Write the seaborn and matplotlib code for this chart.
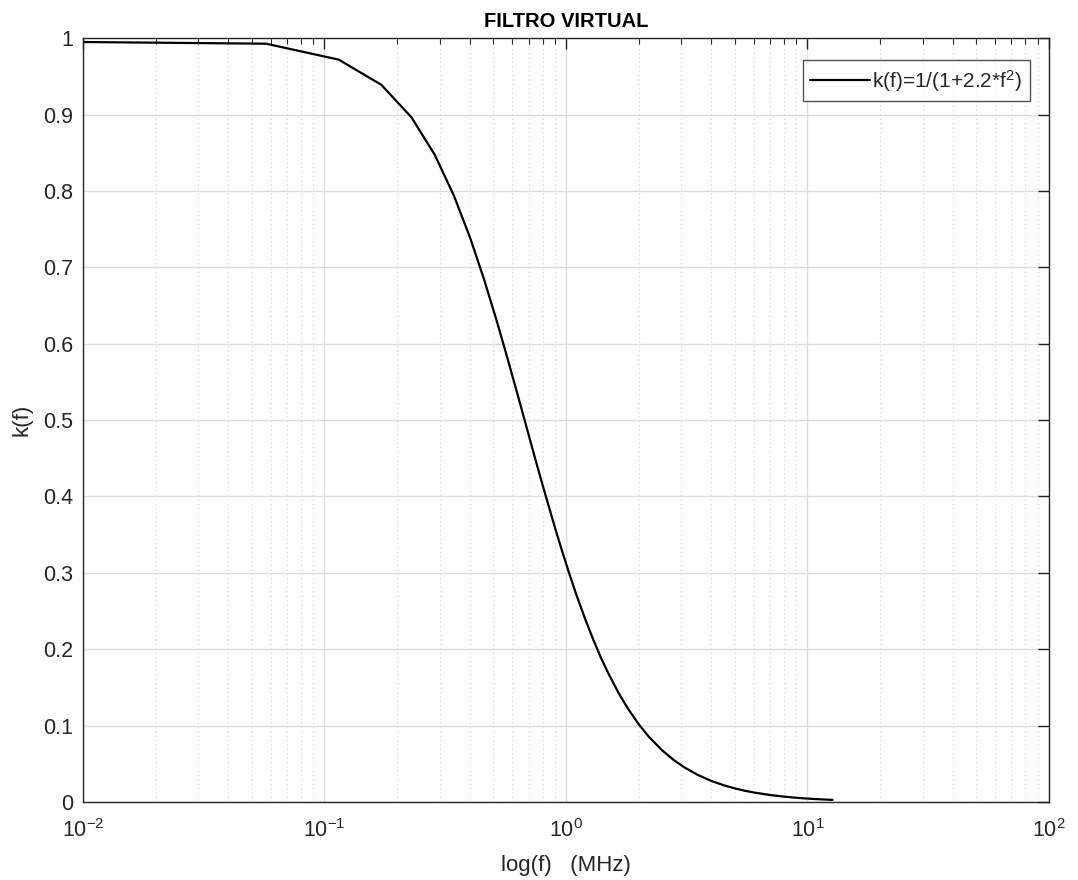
import matplotlib
matplotlib.use("Agg")
import matplotlib.pyplot as plt
import seaborn as sns
import numpy as np
import pandas as pd
from matplotlib.ticker import LogLocator, NullFormatter, MultipleLocator, FuncFormatter

# Data
freq_mhz = [0.01, 0.0573, 0.1146, 0.1719, 0.2292, 0.2865, 0.3438, 0.4011, 0.4584,
            0.5157, 0.573, 0.63, 0.6876, 0.745, 0.8022, 0.86, 0.9168, 0.974, 1.0314,
            1.1, 1.2, 1.3, 1.4, 1.5, 1.65, 1.8, 2.0, 2.2, 2.5, 2.8, 3.1, 3.5, 4.0,
            4.5, 5.0, 5.5, 6.0, 7.0, 8.0, 9.0, 10.0, 11.3, 12.7]
k_vals = [0.995, 0.9928, 0.9719, 0.939, 0.8964, 0.8471, 0.7936, 0.7386, 0.6839,
          0.6309, 0.5806, 0.534, 0.4902, 0.450, 0.4139, 0.381, 0.351, 0.324, 0.2994,
          0.273, 0.2399, 0.212, 0.188, 0.1681, 0.143, 0.123, 0.102, 0.0858, 0.0678,
          0.0548, 0.0452, 0.0358, 0.0276, 0.0220, 0.0179, 0.0148, 0.0125, 0.0092,
          0.00705, 0.0056, 0.00452, 0.00355, 0.00281]
series_label = "k(f)=1/(1+2.2*f$^2$)"
title = "FILTRO VIRTUAL"
xlabel = "log(f)   (MHz)"
ylabel = "k(f)"

sns.set_style("white")
plt.rcParams['font.family'] = ['Liberation Sans', 'DejaVu Sans']
plt.rcParams['mathtext.fontset'] = 'custom'
plt.rcParams['mathtext.rm'] = 'Liberation Sans'
plt.rcParams['mathtext.it'] = 'Liberation Sans'
plt.rcParams['axes.unicode_minus'] = False

fig = plt.figure(figsize=(10.78, 8.8), dpi=100)
ax = fig.add_axes([0.077, 0.0886, 0.896, 0.868])

df = pd.DataFrame({"f": freq_mhz, "k": k_vals})
sns.lineplot(data=df, x="f", y="k", ax=ax, color="black", linewidth=1.6,
             estimator=None, sort=False, label=series_label)

ax.set_xscale("log")
ax.set_xlim(1e-2, 1e2)
ax.set_ylim(0, 1)
ax.yaxis.set_major_locator(MultipleLocator(0.1))
ax.yaxis.set_major_formatter(FuncFormatter(
    lambda v, p: f"{int(round(v))}" if abs(v - round(v)) < 1e-9 else f"{v:.1f}"))
ax.xaxis.set_major_locator(LogLocator(base=10, numticks=10))
ax.xaxis.set_major_formatter(FuncFormatter(
    lambda v, p: r"$\mathdefault{10^{%d}}$" % int(round(np.log10(v)))))
ax.xaxis.set_minor_locator(LogLocator(base=10, subs=np.arange(2, 10), numticks=100))
ax.xaxis.set_minor_formatter(NullFormatter())

ax.grid(True, which="major", color="#dcdcdc", linewidth=1.0, linestyle="-")
ax.grid(True, which="minor", axis="x", color="#d8d8d8", linewidth=0.9, linestyle=(0, (1, 2.5)))
ax.set_axisbelow(True)

for s in ax.spines.values():
    s.set_color("#262626")
    s.set_linewidth(1.0)
    s.set_visible(True)

ax.tick_params(which="both", direction="in", top=True, right=True, colors="#262626",
               labelsize=15.5, labelcolor="#262626")
ax.tick_params(which="major", length=8, width=1.0)
ax.tick_params(axis="y", which="major", pad=7)
ax.tick_params(axis="x", which="major", pad=12)
ax.tick_params(which="minor", length=4, width=0.8)

ax.set_title(title, fontsize=14.5, fontweight="bold", pad=8, color="black")
ax.set_xlabel(xlabel, fontsize=16, color="#262626", labelpad=10)
ax.set_ylabel(ylabel, fontsize=16, color="#262626", labelpad=8)

leg = ax.legend(loc="upper right", fontsize=15, frameon=True, fancybox=False,
                edgecolor="#262626", handlelength=2.9, borderpad=0.35,
                borderaxespad=0, bbox_to_anchor=(0.980, 0.971), handletextpad=0.1)
leg.get_frame().set_linewidth(1.0)

fig.savefig("out.png", dpi=100, facecolor="white")
